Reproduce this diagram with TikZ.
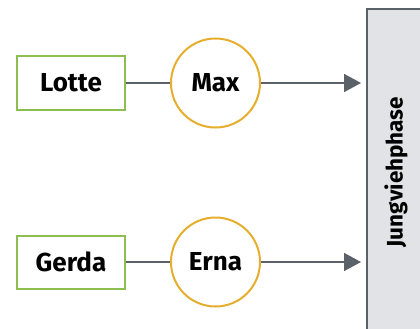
\documentclass[tikz,border=0pt]{standalone}
\usepackage{fontspec}
\setmainfont{Fira Sans}
\usepackage{xcolor}
\usetikzlibrary{arrows.meta,positioning}

\definecolor{cowgreen}{HTML}{8DBE52}
\definecolor{bullgold}{HTML}{E5AE2E}
\definecolor{slate}{HTML}{5A6169}
\definecolor{phasegray}{HTML}{E1E3E6}

\begin{document}
\begin{tikzpicture}[
    x=1pt, y=-1pt,
    >={Triangle[length=17pt,width=18pt]},
    cow/.style={draw=cowgreen,line width=2pt,minimum width=108pt,minimum height=53pt,
                inner sep=0pt,font=\fontsize{26}{30}\selectfont\bfseries},
    bull/.style={circle,draw=bullgold,line width=2pt,minimum size=89pt,
                 inner sep=0pt,font=\fontsize{26}{30}\selectfont\bfseries},
    link/.style={slate,line width=1.6pt},
    feed/.style={->,slate,line width=1.6pt},
  ]
  \useasboundingbox (0,0) rectangle (420,329);

  % --- rearing phase bar (runs off the right and bottom edges) ---
  \draw[slate,fill=phasegray,line width=2pt] (367,9.5) rectangle (430,340);
  \node[rotate=90,font=\fontsize{22.5}{26}\selectfont\bfseries] (phase) at (396,172) {Jungviehphase};
  \coordinate (in1) at (361,83);
  \coordinate (in2) at (361,262);

  % --- dams and sires ---
  \node[cow]  (lotte) at (71,83)   {Lotte};
  \node[bull] (max)   at (215.5,83) {Max};
  \node[cow]  (gerda) at (71,262)  {Gerda};
  \node[bull] (erna)  at (215.5,262) {Erna};

  % --- pairings feed into the phase ---
  \draw[link] (lotte) -- (max);
  \draw[link] (gerda) -- (erna);
  \draw[feed] (max) -- (in1);
  \draw[feed] (erna) -- (in2);

\end{tikzpicture}
\end{document}
